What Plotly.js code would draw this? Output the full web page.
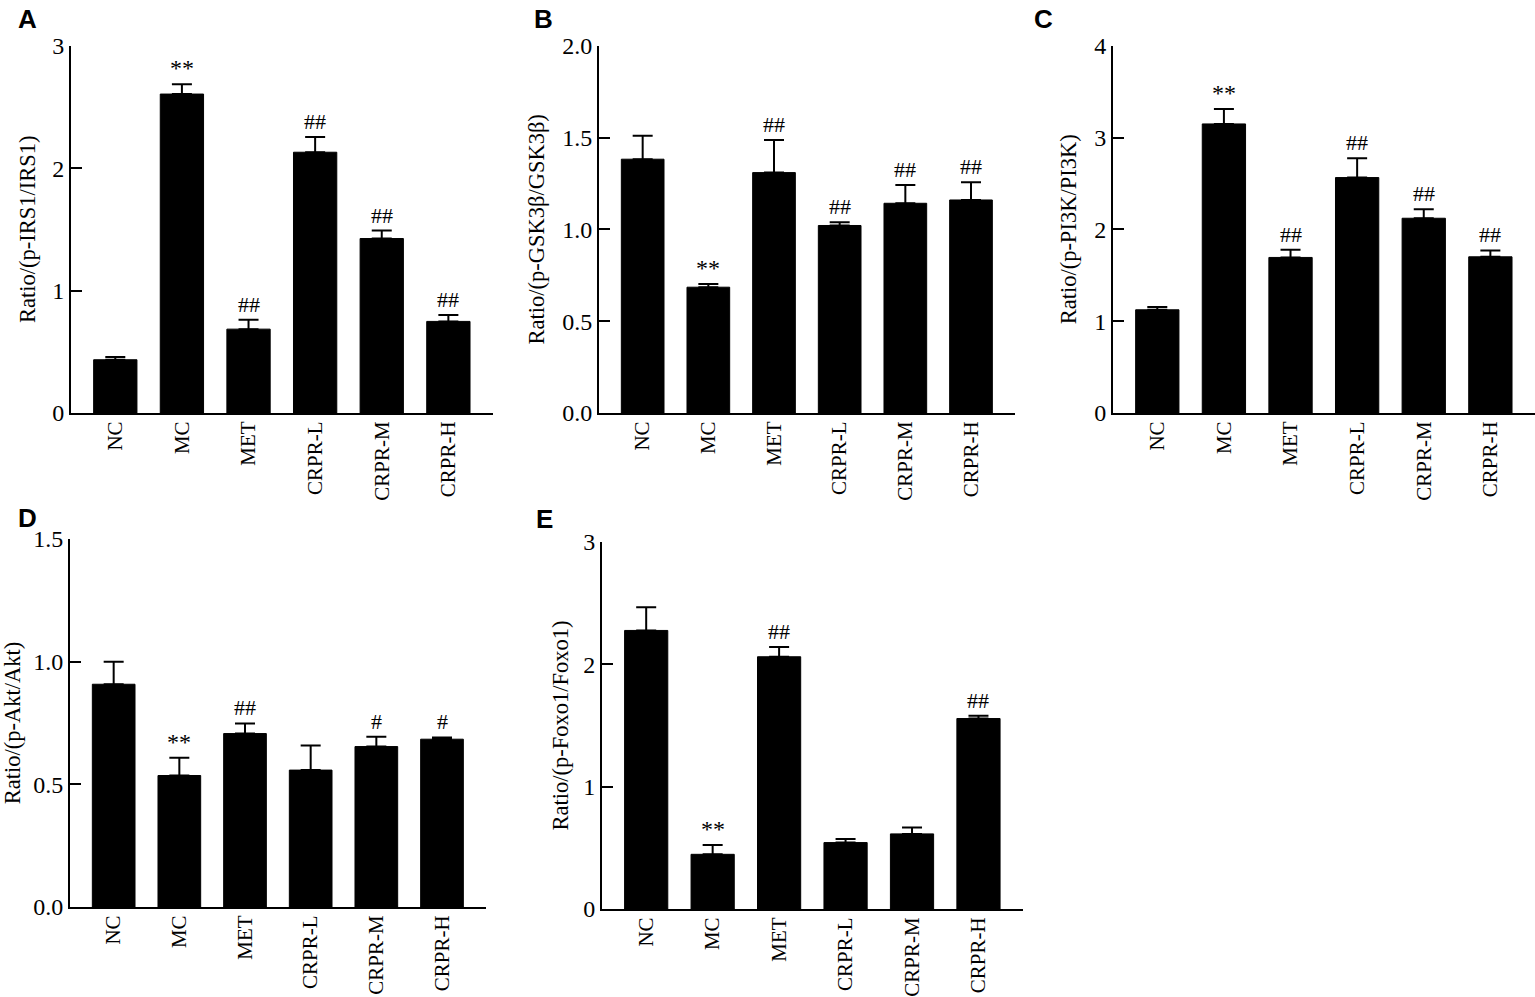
<!DOCTYPE html>
<html>
<head>
<meta charset="utf-8">
<script src="https://cdn.plot.ly/plotly-3.0.1.min.js"></script>
<style>
  body { margin: 0; background: #fff; }
  #chart { width: 1535px; height: 997px; }
</style>
</head>
<body>
<div id="chart"></div>
<script>
// groups on every panel
const groups = ['NC', 'MC', 'MET', 'CRPR-L', 'CRPR-M', 'CRPR-H'];

// A  p-IRS1/IRS1
const irs1Mean = [0.435, 2.605, 0.685, 2.13, 1.425, 0.748];
const irs1Err  = [0.022, 0.08, 0.076, 0.125, 0.065, 0.052];
const irs1Sig  = ['', '**', '##', '##', '##', '##'];

// B  p-GSK3b/GSK3b
const gskMean = [1.382, 0.685, 1.309, 1.021, 1.142, 1.16];
const gskErr  = [0.127, 0.018, 0.178, 0.018, 0.1, 0.096];
const gskSig  = ['', '**', '##', '##', '##', '##'];

// C  p-PI3K/PI3K
const pi3kMean = [1.124, 3.148, 1.694, 2.564, 2.121, 1.701];
const pi3kErr  = [0.03, 0.163, 0.083, 0.21, 0.098, 0.069];
const pi3kSig  = ['', '**', '##', '##', '##', '##'];

// D  p-Akt/Akt
const aktMean = [0.908, 0.536, 0.707, 0.558, 0.654, 0.684];
const aktErr  = [0.092, 0.072, 0.041, 0.1, 0.04, 0.007];
const aktSig  = ['', '**', '##', '', '#', '#'];

// E  p-Foxo1/Foxo1
const foxoMean = [2.277, 0.447, 2.062, 0.543, 0.614, 1.557];
const foxoErr  = [0.19, 0.076, 0.079, 0.03, 0.052, 0.022];
const foxoSig  = ['', '**', '##', '', '', '##'];

const W = 1535, H = 997;
const serif = 'Liberation Serif, Times New Roman, serif';

// pixel boxes of each plot area: left, right, top, bottom
const panels = [
  {letter: 'A', mean: irs1Mean, err: irs1Err, sig: irs1Sig, box: [71, 493, 45.7, 413],
   ymax: 3, dtick: 1, fmt: '', title: 'Ratio/(p-IRS1/IRS1)', so: 10, lx: 16, ly: 2},
  {letter: 'B', mean: gskMean, err: gskErr, sig: gskSig, box: [599, 1015, 45.7, 413],
   ymax: 2, dtick: 0.5, fmt: '.1f', title: 'Ratio/(p-GSK3β/GSK3β)', so: 11, lx: 532, ly: 2},
  {letter: 'C', mean: pi3kMean, err: pi3kErr, sig: pi3kSig, box: [1113, 1535, 45.7, 413],
   ymax: 4, dtick: 1, fmt: '', title: 'Ratio/(p-PI3K/PI3K)', so: 11, lx: 1032, ly: 2},
  {letter: 'D', mean: aktMean, err: aktErr, sig: aktSig, box: [70, 486, 539, 907],
   ymax: 1.5, dtick: 0.5, fmt: '.1f', title: 'Ratio/(p-Akt/Akt)', so: 14, lx: 16, ly: 501},
  {letter: 'E', mean: foxoMean, err: foxoErr, sig: foxoSig, box: [602, 1023, 542, 909],
   ymax: 3, dtick: 1, fmt: '', title: 'Ratio/(p-Foxo1/Foxo1)', so: 8, lx: 534, ly: 502}
];

let traces = [];
let annotations = [];
let layout = {
  width: W, height: H,
  margin: {l: 0, r: 0, t: 0, b: 0},
  paper_bgcolor: '#fff', plot_bgcolor: '#fff',
  showlegend: false,
  font: {family: serif, color: '#000'}
};

panels.forEach((p, i) => {
  let n = i === 0 ? '' : String(i + 1);
  let xa = 'x' + n, ya = 'y' + n;

  traces.push({
    type: 'bar',
    x: groups,
    y: p.mean,
    xaxis: xa, yaxis: ya,
    width: 0.65,
    marker: {color: '#000', line: {color: '#000', width: 1}},
    error_y: {type: 'data', symmetric: false, array: p.err, arrayminus: p.err.map(() => 0),
              color: '#000', thickness: 2, width: 10},
    hoverinfo: 'skip'
  });

  layout['xaxis' + n] = {
    domain: [p.box[0] / W, p.box[1] / W],
    anchor: ya,
    type: 'category',
    range: [-0.665, 5.67],
    showline: true, linecolor: '#000', linewidth: 2,
    ticks: '', showgrid: false, zeroline: false,
    tickangle: -90,
    ticklabelstandoff: -2,
    tickfont: {family: serif, size: 21, color: '#000'},
    fixedrange: true
  };
  layout['yaxis' + n] = {
    domain: [1 - p.box[3] / H, 1 - p.box[2] / H],
    anchor: xa,
    range: [0, p.ymax],
    dtick: p.dtick, tick0: 0,
    tickformat: p.fmt,
    showline: true, linecolor: '#000', linewidth: 2,
    ticks: 'inside', ticklen: 11, tickwidth: 2, tickcolor: '#000',
    showgrid: false, zeroline: false,
    tickfont: {family: serif, size: 24, color: '#000'},
    title: {text: p.title, font: {family: serif, size: 22.5, color: '#000'}, standoff: p.so},
    fixedrange: true
  };

  // significance marks above error bars
  p.sig.forEach((s, k) => {
    if (!s) return;
    annotations.push({
      xref: xa, yref: ya, x: groups[k], y: p.mean[k] + p.err[k],
      text: s, showarrow: false, yanchor: 'bottom', yshift: 1,
      font: {family: serif, size: s === '**' ? 24 : 22, color: '#000'}
    });
  });

  // panel letter
  annotations.push({
    xref: 'paper', yref: 'paper', x: p.lx / W, y: 1 - p.ly / H,
    xanchor: 'left', yanchor: 'top', showarrow: false,
    text: '<b>' + p.letter + '</b>',
    font: {family: 'Liberation Sans, Arial, sans-serif', size: 26, color: '#000'}
  });
});

layout.annotations = annotations;

Plotly.newPlot('chart', traces, layout, {displayModeBar: false, staticPlot: true});
</script>
</body>
</html>
